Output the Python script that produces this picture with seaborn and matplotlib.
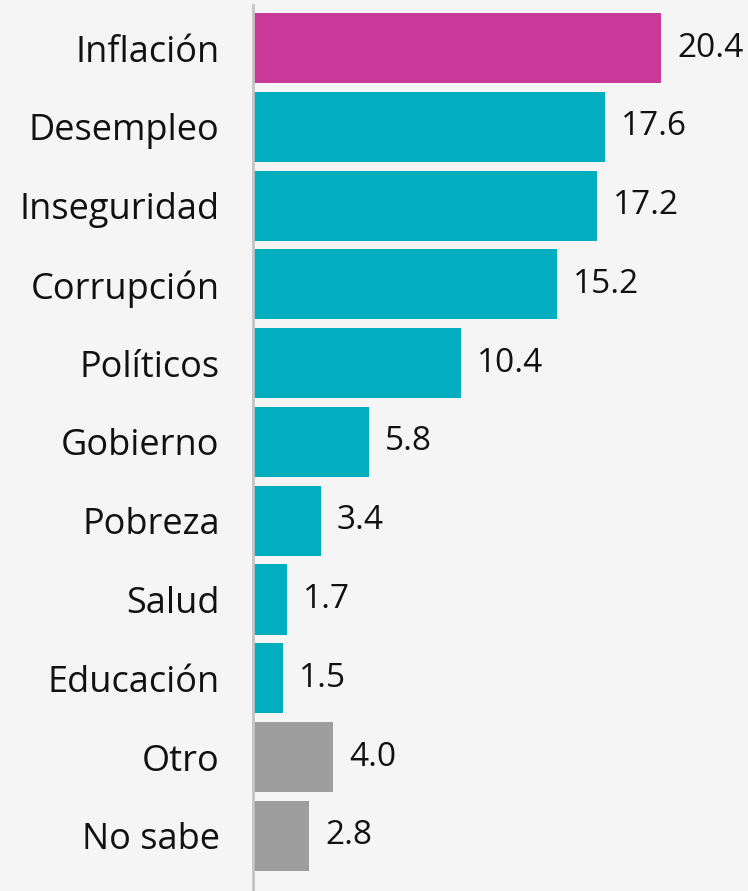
import matplotlib
matplotlib.use("Agg")
import matplotlib.pyplot as plt
import seaborn as sns
import pandas as pd

categories = ["Inflación", "Desempleo", "Inseguridad", "Corrupción", "Políticos",
              "Gobierno", "Pobreza", "Salud", "Educación", "Otro", "No sabe"]
values = [20.4, 17.6, 17.2, 15.2, 10.4, 5.8, 3.4, 1.7, 1.5, 4.0, 2.8]
groups = ["top", "tema", "tema", "tema", "tema", "tema", "tema", "tema", "tema", "otro", "otro"]

palette = {"top": "#c8399a", "tema": "#00aec0", "otro": "#9e9e9e"}
bg = "#f5f5f5"

df = pd.DataFrame({"categoria": categories, "valor": values, "grupo": groups})

sns.set_theme(style="white")
plt.rcParams["font.family"] = ["Open Sans", "DejaVu Sans"]

fig = plt.figure(figsize=(7.48, 8.91), dpi=100, facecolor=bg)
ax = fig.add_axes([253 / 748, 0, 495 / 748, 886 / 891])
ax.set_facecolor(bg)

sns.barplot(data=df, x="valor", y="categoria", hue="grupo", palette=palette,
            dodge=False, width=0.89, saturation=1, legend=False, ax=ax, linewidth=0)

for i, v in enumerate(values):
    ax.text(v + 0.8, i, f"{v:.1f}", va="center", ha="left", fontsize=24, color="#111111")

ax.set_xlim(0, 24.75)
ax.set_ylim(10.70, -0.546)
ax.set_xlabel("")
ax.set_ylabel("")
ax.set_xticks([])
ax.tick_params(axis="y", length=0, pad=24, labelsize=26, labelcolor="#111111")
for s in ["top", "right", "bottom"]:
    ax.spines[s].set_visible(False)
ax.spines["left"].set_color("#c4c4c4")
ax.spines["left"].set_linewidth(2)

fig.savefig("out.png", dpi=100, facecolor=bg)
